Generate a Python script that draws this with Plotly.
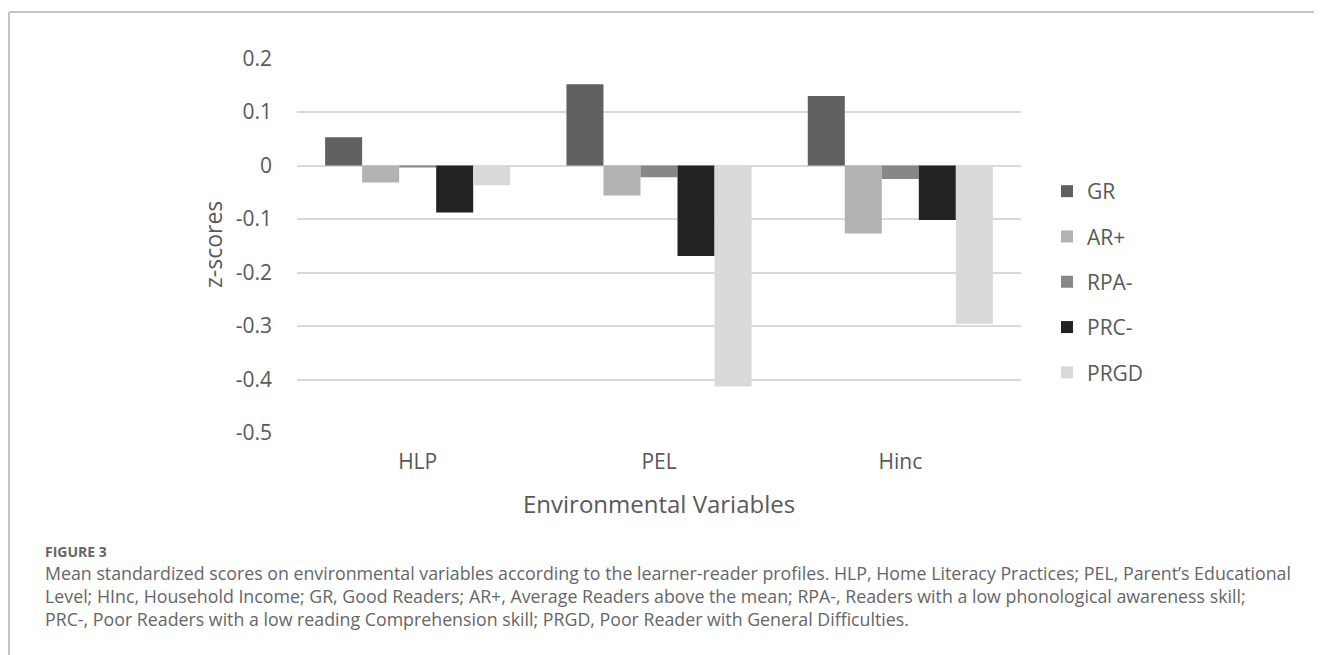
import plotly.graph_objects as go

# page offset: the browser body has an 8px margin
OFF = 8
W, H = 1322 - OFF, 655 - OFF

categories = ["HLP", "PEL", "Hinc"]
series_names = ["GR", "AR+", "RPA-", "PRC-", "PRGD"]
gr = [0.053, 0.152, 0.130]
ar_plus = [-0.032, -0.056, -0.127]
rpa_minus = [-0.003, -0.022, -0.025]
prc_minus = [-0.088, -0.169, -0.102]
prgd = [-0.037, -0.413, -0.296]
series_values = [gr, ar_plus, rpa_minus, prc_minus, prgd]
colors = ["#606060", "#b2b2b2", "#878787", "#222222", "#d9d9d9"]

y_tickvals = [0.2, 0.1, 0, -0.1, -0.2, -0.3, -0.4, -0.5]
y_ticktext = ["0.2", "0.1", "0", "-0.1", "-0.2", "-0.3", "-0.4", "-0.5"]

caption_title = "FIGURE 3"
caption_text = ("Mean standardized scores on environmental variables according to the learner-reader profiles. HLP, Home Literacy Practices; PEL, Parent\u2019s Educational<br>"
                "Level; HInc, Household Income; GR, Good Readers; AR+, Average Readers above the mean; RPA-, Readers with a low phonological awareness skill;<br>"
                "PRC-, Poor Readers with a low reading Comprehension skill; PRGD, Poor Reader with General Difficulties.")

TXT = "#595959"
FONT = "Open Sans"


def px(x):
    return (x - OFF) / W


def py(y):
    return 1 - (y - OFF) / H


fig = go.Figure()
for name, vals, col in zip(series_names, series_values, colors):
    fig.add_trace(go.Bar(x=categories, y=vals, name=name, legendgroup=name,
                         marker=dict(color=col, line=dict(width=0))))

# plot area in page pixels
x0, x1 = 297, 1021
y0, y1 = 58.5, 433

fig.update_layout(
    width=W, height=H,
    margin=dict(l=0, r=0, t=0, b=0),
    paper_bgcolor="white", plot_bgcolor="white",
    barmode="group", bargap=0.233, bargroupgap=0,
    font=dict(family=FONT, color=TXT, size=21),
    showlegend=True,
    legend=dict(x=px(1047), y=py(171), xanchor="left", yanchor="top",
                font=dict(size=21, color=TXT, family=FONT),
                tracegroupgap=15, traceorder="grouped", itemwidth=30,
                bgcolor="rgba(0,0,0,0)"),
    xaxis=dict(domain=[px(x0), px(x1)], showgrid=False, showline=False,
               ticks="", ticklabelstandoff=14, automargin=False,
               tickfont=dict(size=21, color=TXT, family=FONT)),
    yaxis=dict(domain=[py(y1), py(y0)], range=[-0.5, 0.2],
               tickvals=y_tickvals, ticktext=y_ticktext,
               showgrid=True, gridcolor="#d9d9d9", gridwidth=1.5,
               zeroline=True, zerolinecolor="#d9d9d9", zerolinewidth=1.5,
               showline=False, ticks="", ticklabelstandoff=24, automargin=False,
               tickfont=dict(size=21, color=TXT, family=FONT)),
)

# axis titles
fig.add_annotation(text="z-scores", xref="paper", yref="paper",
                   x=px(213), y=py(245), textangle=-90, showarrow=False,
                   font=dict(size=23, color=TXT, family=FONT),
                   xanchor="center", yanchor="middle")
fig.add_annotation(text="Environmental Variables", xref="paper", yref="paper",
                   x=px(659), y=py(503), showarrow=False,
                   font=dict(size=24, color=TXT, family=FONT),
                   xanchor="center", yanchor="middle")

# caption
fig.add_annotation(text="<b>" + caption_title + "</b>", xref="paper", yref="paper",
                   x=px(43), y=py(551), showarrow=False, align="left",
                   font=dict(size=14, color="#666666", family=FONT),
                   xanchor="left", yanchor="middle")
fig.add_annotation(text=caption_text, xref="paper", yref="paper",
                   x=px(43), y=py(596), showarrow=False, align="left",
                   font=dict(size=17.8, color="#666666", family=FONT),
                   xanchor="left", yanchor="middle")

# frame (top and left borders)
fig.add_shape(type="line", xref="paper", yref="paper",
              x0=px(9), x1=1, y0=py(12), y1=py(12),
              line=dict(color="#c4c4c4", width=2))
fig.add_shape(type="line", xref="paper", yref="paper",
              x0=px(9), x1=px(9), y0=0, y1=py(12),
              line=dict(color="#c4c4c4", width=2))

fig.write_html("out.html")
